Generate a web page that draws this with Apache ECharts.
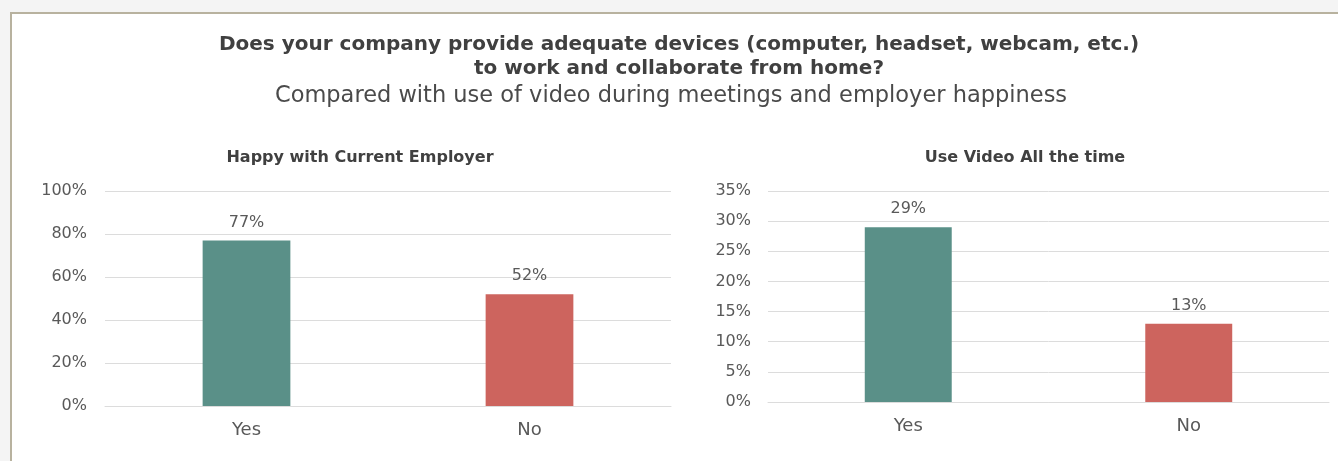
<!DOCTYPE html>
<html>
<head>
<meta charset="utf-8">
<script src="https://cdn.jsdelivr.net/npm/echarts@6/dist/echarts.min.js"></script>
<style>
  html, body { margin: 0; padding: 0; background: #f4f4f4; overflow: hidden; }
  #chart { width: 1338px; height: 461px; }
</style>
</head>
<body>
<div id="chart"></div>
<script>
// Survey answers: share of respondents per group
const categories = ['Yes', 'No'];
const happyValues = [77, 52];      // Happy with Current Employer (%)
const videoValues = [29, 13];      // Use Video All the time (%)
const barColors = ['#5a9088', '#cd645e'];

const mainTitle = 'Does your company provide adequate devices (computer, headset, webcam, etc.)\nto work and collaborate from home?';
const subTitle = 'Compared with use of video during meetings and employer happiness';
const leftTitle = 'Happy with Current Employer';
const rightTitle = 'Use Video All the time';

const FONT = '"DejaVu Sans", sans-serif';
const LIGHT_FONT = '"DejaVu Sans ExtraLight", "DejaVu Sans", sans-serif';
const gridColor = '#dcdcdc';
const axisText = '#595959';
const titleText = '#404040';

function barData(values) {
  return values.map((v, i) => ({ value: v, itemStyle: { color: barColors[i] } }));
}

function xAxis(gridIndex) {
  return {
    type: 'category', gridIndex, data: categories,
    axisLine: { lineStyle: { color: gridColor, width: 1 } },
    axisTick: { show: false },
    axisLabel: { color: axisText, fontSize: 18, fontFamily: FONT, margin: 15 }
  };
}

function yAxis(gridIndex, max, interval, margin) {
  return {
    type: 'value', gridIndex, min: 0, max, interval,
    axisLine: { show: false }, axisTick: { show: false },
    splitLine: { lineStyle: { color: gridColor, width: 1 } },
    axisLabel: { color: axisText, fontSize: 16, fontFamily: FONT, margin, formatter: '{value}%' }
  };
}

function barSeries(idx, values) {
  return {
    type: 'bar', xAxisIndex: idx, yAxisIndex: idx,
    data: barData(values), barWidth: '31%',
    label: {
      show: true, position: 'top', distance: 10,
      color: axisText, fontSize: 16, fontFamily: FONT,
      formatter: p => p.value + '%'
    }
  };
}

const chart = echarts.init(document.getElementById('chart'), null, { renderer: 'canvas' });
chart.setOption({
  backgroundColor: 'transparent',
  animation: false,
  graphic: [{
    type: 'rect', z: -10,
    shape: { x: 11, y: 13, width: 1450, height: 500 },
    style: { fill: '#ffffff', stroke: '#b8b29f', lineWidth: 2 }
  }],
  title: [
    {
      text: mainTitle, left: 679, top: 33, textAlign: 'center', padding: 0,
      textStyle: { fontSize: 20, fontWeight: 'bold', color: titleText, fontFamily: FONT, lineHeight: 24, align: 'center' }
    },
    {
      text: subTitle, left: 671, top: 85, textAlign: 'center', padding: 0,
      textStyle: { fontSize: 22.5, fontWeight: 'normal', color: '#4a4a4a', fontFamily: LIGHT_FONT }
    },
    {
      text: leftTitle, left: 360, top: 150, textAlign: 'center', padding: 0,
      textStyle: { fontSize: 16, fontWeight: 'bold', color: titleText, fontFamily: FONT }
    },
    {
      text: rightTitle, left: 1025, top: 150, textAlign: 'center', padding: 0,
      textStyle: { fontSize: 16, fontWeight: 'bold', color: titleText, fontFamily: FONT }
    }
  ],
  grid: [
    { left: 105, top: 191, width: 566, height: 215 },
    { left: 768, top: 191, width: 561, height: 211 }
  ],
  xAxis: [xAxis(0), xAxis(1)],
  yAxis: [yAxis(0, 100, 20, 18), yAxis(1, 35, 5, 17)],
  series: [barSeries(0, happyValues), barSeries(1, videoValues)]
});
</script>
</body>
</html>
